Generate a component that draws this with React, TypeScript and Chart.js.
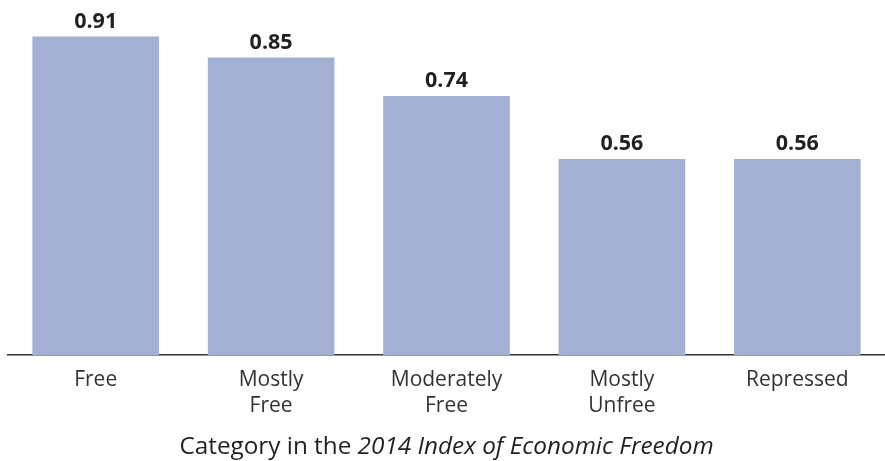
import React, { useEffect, useRef } from "react";
import { Chart, registerables } from "chart.js";

Chart.register(...registerables);

const categories: string[][] = [["Free"], ["Mostly", "Free"], ["Moderately", "Free"], ["Mostly", "Unfree"], ["Repressed"]];
const values: number[] = [0.91, 0.85, 0.74, 0.56, 0.56];
const valueLabels: string[] = ["0.91", "0.85", "0.74", "0.56", "0.56"];
const titleRegular = "Category in the ";
const titleItalic = "2014 Index of Economic Freedom";

const FONT = "'Open Sans', sans-serif";

const overlayPlugin = {
  id: "overlay",
  afterDatasetsDraw(chart: any) {
    const ctx = chart.ctx;
    const meta = chart.getDatasetMeta(0);
    ctx.save();
    ctx.fillStyle = "#231f20";
    ctx.font = `bold 21.5px ${FONT}`;
    ctx.textAlign = "center";
    ctx.textBaseline = "alphabetic";
    meta.data.forEach((bar: any, i: number) => {
      ctx.fillText(valueLabels[i], bar.x, bar.y - 9);
    });
    // axis title with mixed styles
    ctx.textAlign = "left";
    ctx.font = `24.3px ${FONT}`;
    const w1 = ctx.measureText(titleRegular).width;
    ctx.font = `italic 24.3px ${FONT}`;
    const w2 = ctx.measureText(titleItalic).width;
    const cx = 446.5;
    const x0 = cx - (w1 + w2) / 2;
    const y = 454;
    ctx.fillStyle = "#231f20";
    ctx.font = `24.3px ${FONT}`;
    ctx.fillText(titleRegular, x0, y);
    ctx.font = `italic 24.3px ${FONT}`;
    ctx.fillText(titleItalic, x0 + w1, y);
    ctx.restore();
  },
};

export default function App() {
  const ref = useRef<HTMLCanvasElement | null>(null);
  useEffect(() => {
    document.body.style.margin = "0";
    const chart = new Chart(ref.current!, {
      type: "bar",
      data: {
        labels: categories,
        datasets: [
          {
            data: values,
            backgroundColor: "#a3b0d3",
            borderWidth: 0,
            categoryPercentage: 1,
            barPercentage: 0.722,
          },
        ],
      },
      options: {
        animation: false,
        responsive: false,
        maintainAspectRatio: false,
        layout: { padding: { top: 5, left: 8, right: -3, bottom: 0 } },
        plugins: { legend: { display: false }, tooltip: { enabled: false } },
        scales: {
          y: { display: false, min: 0, max: 1 },
          x: {
            afterFit: (scale: any) => {
              scale.height = 106;
            },
            grid: { display: false, drawTicks: false },
            border: { display: true, color: "#333333", width: 1.5 },
            ticks: {
              color: "#333333",
              font: { family: FONT, size: 21, lineHeight: 1.25 },
              padding: 12,
              maxRotation: 0,
              autoSkip: false,
            },
          },
        },
      },
      plugins: [overlayPlugin],
    });
    return () => chart.destroy();
  }, []);
  return (
    <div style={{ position: "absolute", left: 0, top: 0, width: 885, height: 461 }}>
      <canvas ref={ref} width={885} height={461} style={{ width: 885, height: 461 }} />
    </div>
  );
}
